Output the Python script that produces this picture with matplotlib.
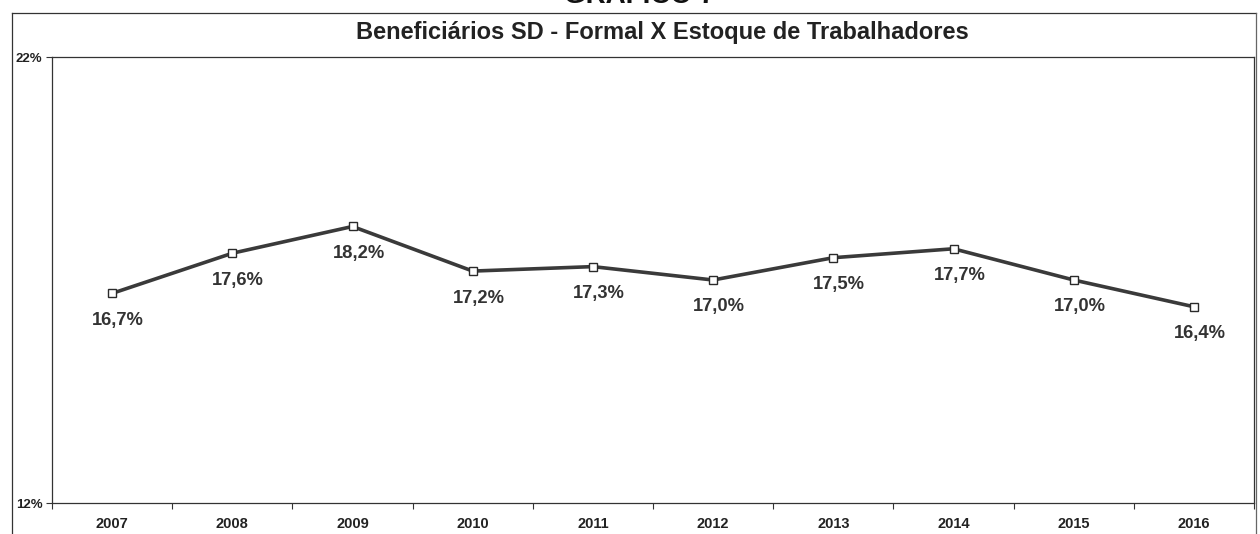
import matplotlib
matplotlib.use("Agg")
import matplotlib.pyplot as plt
from matplotlib.lines import Line2D

years = ["2007", "2008", "2009", "2010", "2011", "2012", "2013", "2014", "2015", "2016"]
values = [16.7, 17.6, 18.2, 17.2, 17.3, 17.0, 17.5, 17.7, 17.0, 16.4]
labels = ["16,7%", "17,6%", "18,2%", "17,2%", "17,3%", "17,0%", "17,5%", "17,7%", "17,0%", "16,4%"]
y_ticks = [12, 22]
y_tick_labels = ["12%", "22%"]
title = "Beneficiários SD - Formal X Estoque de Trabalhadores"
header = "GRÁFICO 7"

plt.rcParams['font.family'] = ['Liberation Sans', 'DejaVu Sans']

W, H = 1260, 534
fig = plt.figure(figsize=(W / 100, H / 100), dpi=100)
ax = fig.add_axes([52 / W, (H - 503) / H, (1254 - 52) / W, (503 - 57) / H])

x = list(range(len(years)))
ax.plot(x, values, color="#3a3a3a", lw=2.6, marker="s", ms=5.5,
        mfc="white", mec="#2a2a2a", mew=1.0, zorder=3)

for xi, v, lab in zip(x, values, labels):
    ax.annotate(lab, (xi, v), xytext=(6, -27), textcoords="offset pixels",
                ha="center", va="center", fontsize=13.2, fontweight="bold",
                color="#333333")

ax.set_xlim(-0.5, len(years) - 0.5)
ax.set_ylim(y_ticks[0], y_ticks[-1])
ax.set_yticks(y_ticks)
ax.set_yticklabels(y_tick_labels, fontsize=9.5, fontweight="bold", color="#222222")
ax.set_xticks([i - 0.5 for i in range(len(years) + 1)])
ax.set_xticklabels([])
ax.set_xticks(x, minor=True)
ax.set_xticklabels(years, minor=True, fontsize=10.5, fontweight="bold", color="#222222")
ax.tick_params(axis="x", which="major", direction="out", length=4, width=0.8, color="#333333")
ax.tick_params(axis="x", which="minor", length=0, pad=10)
ax.tick_params(axis="y", direction="out", length=4, width=0.8, color="#333333", pad=3)
for s in ax.spines.values():
    s.set_linewidth(0.9)
    s.set_color("#333333")

# outer frame
fig.add_artist(Line2D([12 / W, 12 / W], [0, 1 - 13 / H], transform=fig.transFigure,
                      color="#333333", lw=0.9))
fig.add_artist(Line2D([12 / W, 1256 / W], [1 - 13 / H, 1 - 13 / H], transform=fig.transFigure,
                      color="#333333", lw=0.9))
fig.add_artist(Line2D([1256 / W, 1256 / W], [0, 1 - 13 / H], transform=fig.transFigure,
                      color="#666666", lw=0.9))

fig.text(662 / W, 1 - 33 / H, title, ha="center", va="center", fontsize=17,
         fontweight="bold", color="#222222")
fig.text(640 / W, 1 - 3 / H, header, ha="center", va="baseline", fontsize=20,
         fontweight="bold", color="#111111")

fig.savefig("out.png", dpi=100, facecolor="white")
